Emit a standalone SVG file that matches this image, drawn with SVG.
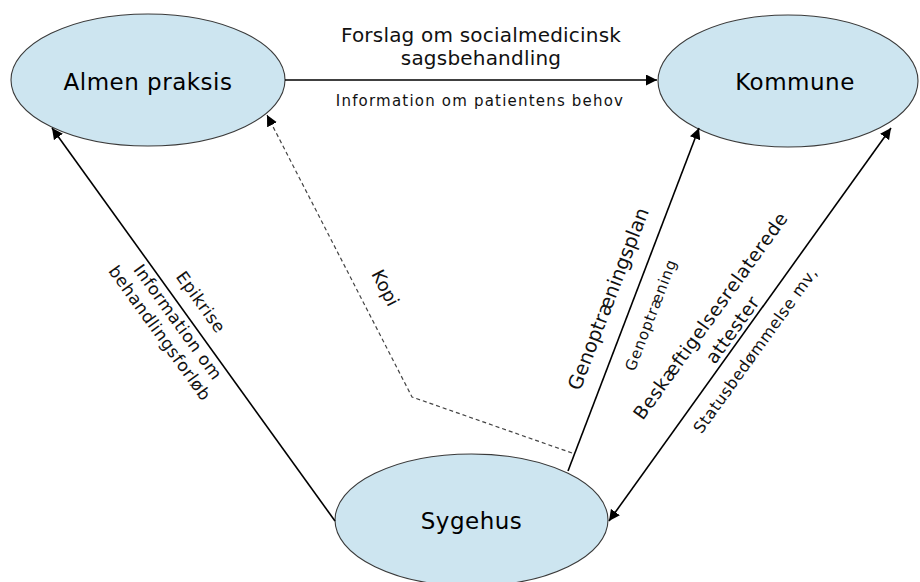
<svg xmlns="http://www.w3.org/2000/svg" width="920" height="582" viewBox="0 0 920 582">
<style>
.node{fill:#cde5f0;stroke:#3a3a3a;stroke-width:1.1}
.nt{font-family:"DejaVu Sans",Verdana,sans-serif;font-size:23px;letter-spacing:0.5px;fill:#000;text-anchor:middle}
.ln{fill:none;stroke:#000;stroke-width:1.6}
.dash{fill:none;stroke:#444;stroke-width:1.2;stroke-dasharray:4,3}
.lb{font-family:"DejaVu Sans",Verdana,sans-serif;fill:#111;text-anchor:middle}
</style>
<defs>
<marker id="ah" markerUnits="userSpaceOnUse" viewBox="0 0 10 10" refX="10" refY="5" markerWidth="11" markerHeight="11" orient="auto-start-reverse">
<path d="M0,0 L10,5 L0,10 z" fill="#000"/>
</marker>
</defs>
<rect width="920" height="582" fill="#fff"/>
<g id="almen-praksis">
<ellipse class="node" cx="148" cy="80" rx="137" ry="66"/>
<text class="nt" x="148" y="90">Almen praksis</text>
</g>
<g id="kommune">
<ellipse class="node" cx="788" cy="81" rx="130" ry="66"/>
<text class="nt" x="795" y="90">Kommune</text>
</g>
<g id="sygehus">
<ellipse class="node" cx="471.5" cy="520" rx="136.5" ry="66"/>
<text class="nt" x="471.5" y="529">Sygehus</text>
</g>
<g id="connectors">
<line class="ln" x1="285" y1="80" x2="657" y2="80" marker-end="url(#ah)"/>
<line class="ln" x1="335" y1="521" x2="52" y2="128" marker-end="url(#ah)"/>
<polyline class="dash" points="572,453 412,397 267,115" marker-end="url(#ah)"/>
<line class="ln" x1="568" y1="471" x2="699" y2="128" marker-end="url(#ah)"/>
<line class="ln" x1="891" y1="128" x2="609" y2="521" marker-start="url(#ah)" marker-end="url(#ah)"/>
</g>
<g id="labels">
<text class="lb" x="481" y="42" font-size="20" letter-spacing="0.2">Forslag om socialmedicinsk</text>
<text class="lb" x="481" y="65" font-size="20" letter-spacing="0.2">sagsbehandling</text>
<text class="lb" x="480" y="106" font-size="15" letter-spacing="1.2">Information om patientens behov</text>
<text class="lb" font-size="17" letter-spacing="0.5" transform="translate(201,302) rotate(54.2)" y="6">Epikrise</text>
<text class="lb" font-size="17" letter-spacing="0.5" transform="translate(178,322) rotate(54.2)" y="6">Information om</text>
<text class="lb" font-size="17" letter-spacing="0.5" transform="translate(160,333) rotate(54.2)" y="6">behandlingsforløb</text>
<text class="lb" font-size="18" transform="translate(385,288) rotate(62.8)" y="6">Kopi</text>
<text class="lb" font-size="19.5" transform="translate(609,299) rotate(-69)" y="6">Genoptræningsplan</text>
<text class="lb" font-size="15" letter-spacing="0.8" transform="translate(651,315) rotate(-69)" y="5">Genoptræning</text>
<text class="lb" font-size="18.5" letter-spacing="0.6" transform="translate(711,316) rotate(-54.25)" y="6">Beskæftigelsesrelaterede</text>
<text class="lb" font-size="18.5" letter-spacing="0.6" transform="translate(733,330) rotate(-54.25)" y="6">attester</text>
<text class="lb" font-size="16" letter-spacing="0.5" transform="translate(755,350) rotate(-54.25)" y="6">Statusbedømmelse mv,</text>
</g>
</svg>
